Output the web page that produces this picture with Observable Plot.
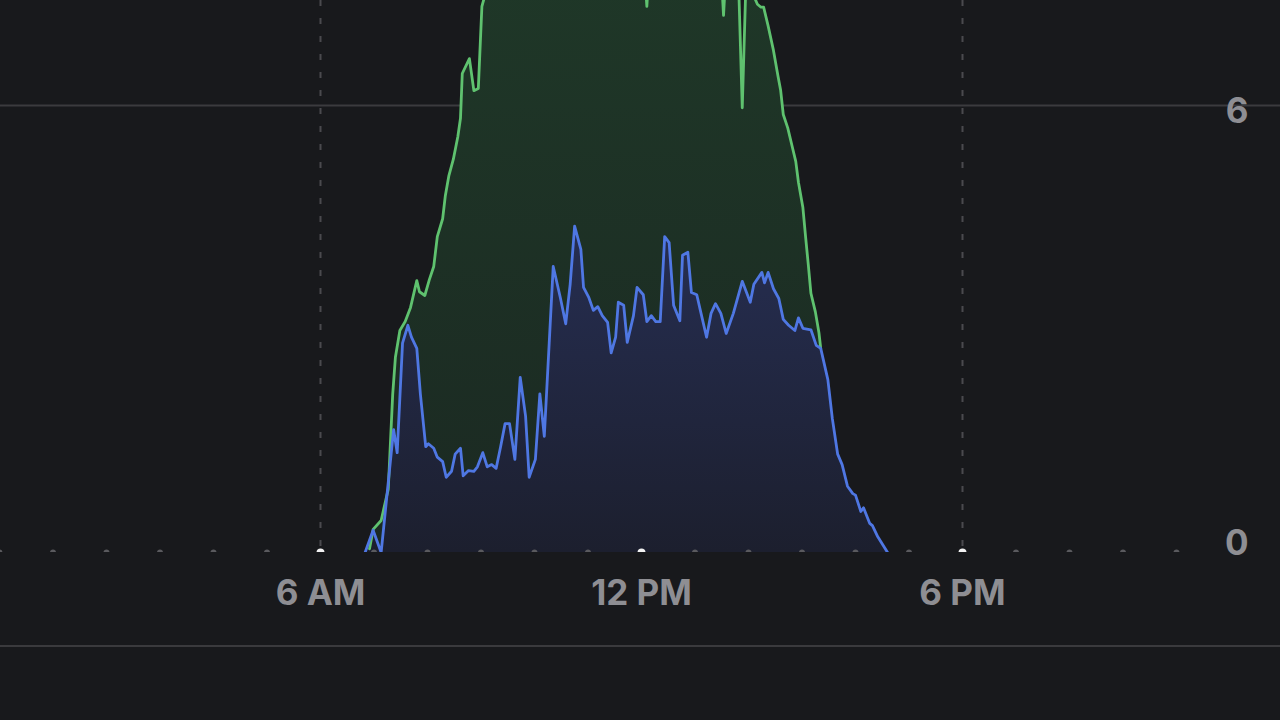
<!DOCTYPE html>
<html>
<head>
<meta charset="utf-8">
<script src="https://cdn.jsdelivr.net/npm/d3@7"></script>
<script src="https://cdn.jsdelivr.net/npm/@observablehq/plot@0.6"></script>
<style>
  html, body { margin: 0; padding: 0; background: #18191c; width: 1280px; height: 720px; overflow: hidden; }
  #chart svg { display: block; }
  #sep { border-top: 2px solid #3a3a3d; height: 73px; background: #18191c; }
</style>
</head>
<body>
<div id="chart"></div>
<div id="sep"></div>
<script>
// ---- Data (time of day, kW) ----
const producedTimes = ["6:55","6:59","7:08","7:16","7:21","7:24","7:29","7:35","7:41","7:48","7:51","7:57","8:02","8:07","8:11","8:17","8:20","8:24","8:29","8:34","8:37","8:39","8:47","8:52","8:57","9:01","9:06","9:12","9:20","9:30","9:45","10:00","10:20","10:40","11:00","11:20","11:40","12:00","12:04","12:06","12:08","12:30","12:50","13:10","13:28","13:30","13:32","13:34","13:45","13:49","13:53","13:57","14:03","14:10","14:14","14:17","14:22","14:28","14:33","14:36","14:39","14:44","14:49","14:53","14:56","15:01","15:04","15:07","15:10","15:15","15:19","15:21"];
const producedValues = [0.05,0.31,0.43,0.85,2.13,2.62,2.98,3.10,3.29,3.65,3.50,3.45,3.66,3.84,4.24,4.48,4.79,5.06,5.28,5.58,5.83,6.43,6.63,6.20,6.23,7.33,7.55,7.70,7.80,7.90,8.00,8.05,8.10,8.15,8.10,8.15,8.10,8.00,7.70,7.33,7.75,8.05,8.10,8.00,7.80,7.65,7.21,7.65,7.75,7.60,5.97,7.60,7.55,7.36,7.32,7.32,7.07,6.74,6.40,6.21,5.88,5.70,5.45,5.25,4.97,4.63,4.24,3.87,3.48,3.23,2.95,2.74];

const usedTimes = ["6:50","6:59","7:08","7:22","7:26","7:32","7:38","7:42","7:48","7:52","7:58","8:01","8:07","8:11","8:17","8:21","8:27","8:31","8:37","8:40","8:46","8:52","8:56","9:02","9:07","9:12","9:17","9:22","9:27","9:32","9:38","9:44","9:50","9:54","10:01","10:06","10:11","10:21","10:29","10:35","10:40","10:45","10:52","10:55","11:01","11:06","11:11","11:16","11:22","11:26","11:31","11:34","11:40","11:44","11:51","11:55","12:02","12:06","12:11","12:16","12:21","12:26","12:31","12:36","12:43","12:46","12:52","12:56","13:02","13:06","13:13","13:18","13:23","13:29","13:35","13:43","13:53","14:02","14:06","14:15","14:18","14:22","14:28","14:34","14:39","14:45","14:52","14:56","15:01","15:10","15:16","15:21","15:29","15:34","15:40","15:45","15:51","15:57","16:00","16:06","16:09","16:16","16:19","16:25","16:36"];
const usedValues = [0.00,0.30,0.00,1.65,1.34,2.81,3.05,2.89,2.74,2.13,1.42,1.46,1.40,1.28,1.22,1.01,1.09,1.32,1.40,1.03,1.10,1.09,1.15,1.34,1.15,1.18,1.13,1.42,1.73,1.73,1.25,2.35,1.83,1.01,1.25,2.13,1.56,3.84,3.42,3.07,3.60,4.38,4.07,3.56,3.42,3.25,3.30,3.18,3.09,2.68,2.89,3.36,3.32,2.82,3.18,3.56,3.46,3.10,3.18,3.10,3.10,4.24,4.16,3.32,3.11,3.99,4.03,3.49,3.46,3.25,2.89,3.21,3.34,3.21,2.94,3.21,3.64,3.36,3.60,3.76,3.62,3.76,3.54,3.41,3.13,3.05,2.98,3.15,3.01,2.99,2.78,2.74,2.32,1.80,1.32,1.18,0.89,0.79,0.77,0.55,0.60,0.39,0.36,0.21,0.00];

const xTicks = [6, 12, 18];
const xTickLabels = ["6 AM", "12 PM", "6 PM"];
const yTicks = [0, 6];
const hourMarks = [0,1,2,3,4,5,6,7,8,9,10,11,12,13,14,15,16,17,18,19,20,21,22];

// ---- Build tables ----
const toHours = s => { const [h, m] = s.split(":").map(Number); return h + m / 60; };
const produced = producedTimes.map((t, i) => ({t: toHours(t), v: producedValues[i]}));
const used = usedTimes.map((t, i) => ({t: toHours(t), v: usedValues[i]}));
const labelOf = new Map(xTicks.map((d, i) => [d, xTickLabels[i]]));

const FONT = "Inter, 'Open Sans', sans-serif";
const LABEL = "#8e8e93";

const defs = () => {
  const d = d3.create("svg:defs");
  const g = d.append("linearGradient").attr("id", "gradGreen").attr("x1", 0).attr("x2", 0).attr("y1", 0).attr("y2", 1);
  g.append("stop").attr("offset", "0%").attr("stop-color", "#1f3828");
  g.append("stop").attr("offset", "100%").attr("stop-color", "#1b2922");
  const b = d.append("linearGradient").attr("id", "gradBlue").attr("x1", 0).attr("x2", 0).attr("y1", 0).attr("y2", 1);
  b.append("stop").attr("offset", "0%").attr("stop-color", "#262e52");
  b.append("stop").attr("offset", "100%").attr("stop-color", "#1c1f2e");
  return d.node();
};

const chart = Plot.plot({
  width: 1280,
  height: 645,
  marginTop: 0,
  marginBottom: 93,
  marginLeft: 0,
  marginRight: 0,
  style: {background: "#18191c", fontFamily: FONT, overflow: "visible"},
  x: {domain: [0, 24], range: [-1, 1283], axis: null},
  y: {domain: [0, 7.41], axis: null},
  marks: [
    defs,
    Plot.ruleY(yTicks.filter(d => d > 0), {stroke: "#3b3b3e", strokeWidth: 2}),
    Plot.ruleX(xTicks, {stroke: "#4a4a4e", strokeWidth: 2, strokeDasharray: "6,12"}),
    Plot.areaY(produced, {x: "t", y: "v", fill: "url(#gradGreen)", clip: true}),
    Plot.areaY(used, {x: "t", y: "v", fill: "url(#gradBlue)", clip: true}),
    Plot.lineY(produced, {x: "t", y: "v", stroke: "#5fc26f", strokeWidth: 2.8, clip: true}),
    Plot.lineY(used, {x: "t", y: "v", stroke: "#4f77e3", strokeWidth: 2.8, clip: true}),
    Plot.dot(hourMarks.filter(h => !xTicks.includes(h)), {x: d => d, y: 0, r: 3, fill: "#5a5a5e", stroke: null, clip: true}),
    Plot.dot(xTicks, {x: d => d, y: 0, r: 4, fill: "#f2f2f2", stroke: null, clip: true}),
    Plot.text(xTicks, {x: d => d, frameAnchor: "bottom", dy: 41, text: d => labelOf.get(d), fill: LABEL, fontSize: 35, fontWeight: 700, lineAnchor: "middle", textAnchor: "middle"}),
    Plot.text(yTicks.filter(d => d > 0), {y: d => d, frameAnchor: "right", dx: -32, dy: 6, text: d => String(d), fill: LABEL, fontSize: 35, fontWeight: 700, textAnchor: "end", lineAnchor: "middle"}),
    Plot.text(yTicks.filter(d => d === 0), {y: d => d, frameAnchor: "right", dx: -32, dy: -9, text: d => String(d), fill: LABEL, fontSize: 35, fontWeight: 700, textAnchor: "end", lineAnchor: "middle"})
  ]
});
document.getElementById("chart").appendChild(chart);
</script>
</body>
</html>
